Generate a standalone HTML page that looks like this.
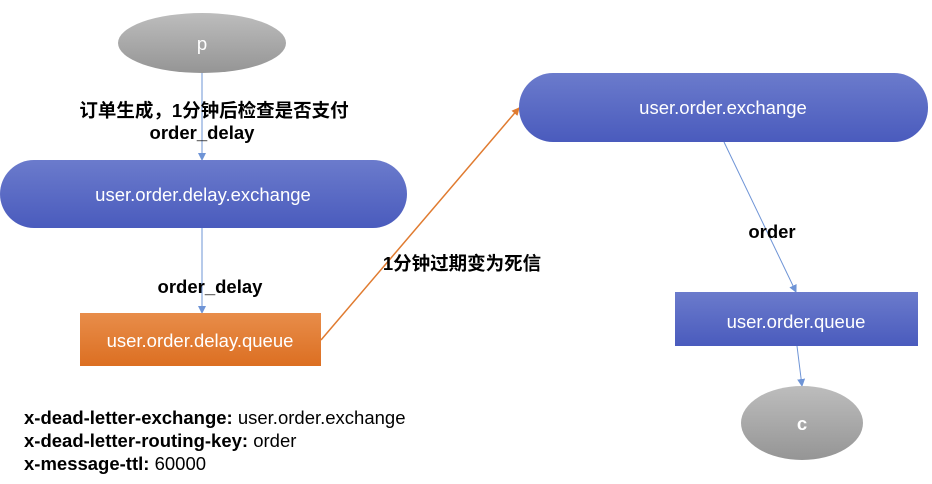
<!DOCTYPE html>
<html><head><meta charset="utf-8"><style>
html,body{margin:0;padding:0;background:#fff;width:932px;height:484px;overflow:hidden;font-family:"Liberation Sans","Noto Sans CJK SC",sans-serif}
</style></head><body>
<svg width="932" height="484" xmlns="http://www.w3.org/2000/svg" style="position:absolute;left:0;top:0">
<defs>
<linearGradient id="b" x1="0" y1="0" x2="0" y2="1"><stop offset="0" stop-color="#6b7bcc"/><stop offset="1" stop-color="#4a5bbd"/></linearGradient>
<linearGradient id="g" x1="0" y1="0" x2="0" y2="1"><stop offset="0" stop-color="#bdbdbd"/><stop offset="1" stop-color="#959595"/></linearGradient>
<linearGradient id="o" x1="0" y1="0" x2="0" y2="1"><stop offset="0" stop-color="#e88d4a"/><stop offset="1" stop-color="#dc6f22"/></linearGradient>
<marker id="ab" markerWidth="8" markerHeight="8" refX="7" refY="4" orient="auto" markerUnits="userSpaceOnUse"><path d="M0,0 L8,4 L0,8 z" fill="#6e94d6"/></marker>
<marker id="ao" markerWidth="8" markerHeight="8" refX="7" refY="4" orient="auto" markerUnits="userSpaceOnUse"><path d="M0,0 L8,4 L0,8 z" fill="#e07b30"/></marker>
</defs>
<g stroke="#6e94d6" stroke-width="1" fill="none">
<line x1="202" y1="73" x2="202" y2="160" marker-end="url(#ab)"/>
<line x1="202" y1="228" x2="202" y2="313" marker-end="url(#ab)"/>
<line x1="724" y1="142" x2="796" y2="292" marker-end="url(#ab)"/>
<line x1="797" y1="346" x2="802" y2="386" marker-end="url(#ab)"/>
</g>
<line x1="321" y1="340" x2="519" y2="108" stroke="#e07b30" stroke-width="1.5" marker-end="url(#ao)"/>
<ellipse cx="202" cy="43" rx="84" ry="30" fill="url(#g)"/>
<ellipse cx="802" cy="423" rx="61" ry="37" fill="url(#g)"/>
<rect x="0" y="160" width="407" height="68" rx="34" fill="url(#b)"/>
<rect x="519" y="73" width="409" height="69" rx="34" fill="url(#b)"/>
<rect x="675" y="292" width="243" height="54" fill="url(#b)"/>
<rect x="80" y="313" width="241" height="53" fill="url(#o)"/>
<g fill="#fff" font-size="18.5" text-anchor="middle" font-family="Liberation Sans,sans-serif">
<text x="202" y="50">p</text>
<text x="802" y="430" font-weight="bold">c</text>
<text x="203" y="201">user.order.delay.exchange</text>
<text x="723" y="114">user.order.exchange</text>
<text x="796" y="328">user.order.queue</text>
<text x="200" y="347">user.order.delay.queue</text>
</g>
<g fill="#000" font-size="18.5" font-weight="bold" text-anchor="middle">
<text x="214" y="117">订单生成，1分钟后检查是否支付</text>
<text x="202" y="139">order_delay</text>
<text x="210" y="293">order_delay</text>
<text x="462" y="270">1分钟过期变为死信</text>
<text x="772" y="238">order</text>
</g>
<g fill="#000" font-size="18.5">
<text x="24" y="424"><tspan font-weight="bold">x-dead-letter-exchange:</tspan> user.order.exchange</text>
<text x="24" y="447"><tspan font-weight="bold">x-dead-letter-routing-key:</tspan> order</text>
<text x="24" y="470"><tspan font-weight="bold">x-message-ttl:</tspan> 60000</text>
</g>
</svg>
</body></html>
